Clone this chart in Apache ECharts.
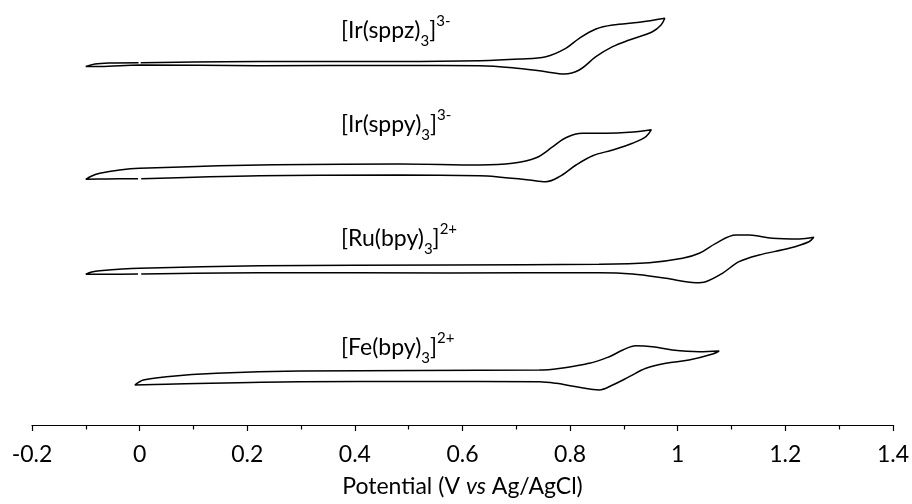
<!DOCTYPE html>
<html>
<head>
<meta charset="utf-8">
<script src="https://cdn.jsdelivr.net/npm/echarts@6/dist/echarts.min.js"></script>
<style>
html,body{margin:0;padding:0;background:#fff;}
#chart{width:912px;height:504px;}
</style>
</head>
<body>
<div id="chart"></div>
<script>
// Potential axis ticks (V vs Ag/AgCl)
const xTicks = [-0.2, 0, 0.2, 0.4, 0.6, 0.8, 1, 1.2, 1.4];

// Curve labels (rich text: main / subscript / superscript)
const curveLabels = [
  ['[Ir(sppz)', '3', ']', '3-'],
  ['[Ir(sppy)', '3', ']', '3-'],
  ['[Ru(bpy)', '3', ']', '2+'],
  ['[Fe(bpy)', '3', ']', '2+']
];

// [Ir(sppz)3]3- : potential (V) and offset current (a.u.)
const sppzE = [0.002, 0.223, 0.483, 0.632, 0.706, 0.755, 0.792, 0.817, 0.848, 0.879, 0.929, 0.976,
  0.969, 0.953, 0.910, 0.879, 0.848, 0.817, 0.789, 0.755, 0.693, 0.632, 0.483, 0.223, 0.000, -0.074, -0.100,
  -0.083, -0.055, -0.002];
const sppzI = [36.23, 36.35, 36.35, 36.43, 36.6, 36.83, 37.67, 38.67, 39.6, 40.0, 40.27, 40.67,
  40.0, 39.33, 38.5, 37.83, 36.83, 35.5, 35.1, 35.33, 35.73, 35.93, 35.95, 35.93, 36.0, 35.85, 35.85,
  36.1, 36.2, 36.23];

// [Ir(sppy)3]3-
const sppyE = [-0.003, -0.060, -0.100, -0.089, -0.074, -0.037, 0.000, 0.223, 0.483, 0.632, 0.693, 0.737,
  0.768, 0.792, 0.823, 0.867, 0.910, 0.951, 0.941, 0.916, 0.879, 0.842, 0.811, 0.780, 0.755, 0.724,
  0.663, 0.632, 0.483, 0.223, 0.003];
const sppyI = [24.63, 24.6, 24.57, 24.9, 25.17, 25.5, 25.67, 26.0, 26.1, 26.0, 26.17, 26.73,
  27.83, 28.73, 29.17, 29.17, 29.27, 29.53, 28.83, 28.17, 27.5, 26.93, 26.0, 24.83, 24.33, 24.5,
  24.83, 24.93, 25.0, 24.93, 24.63];

// [Ru(bpy)3]2+
const ruE = [-0.003, -0.060, -0.100, -0.089, -0.074, 0.000, 0.223, 0.576, 0.854, 0.947, 1.009, 1.040,
  1.071, 1.108, 1.133, 1.176, 1.226, 1.253, 1.244, 1.207, 1.151, 1.114, 1.083, 1.052, 1.034, 0.978,
  0.916, 0.854, 0.576, 0.223, 0.003];
const ruI = [15.1, 15.08, 15.07, 15.3, 15.43, 15.67, 15.93, 16.0, 16.07, 16.23, 16.67, 17.17,
  18.17, 19.0, 19.0, 18.67, 18.6, 18.77, 18.33, 17.67, 17.0, 16.33, 15.17, 14.33, 14.23, 14.67,
  15.1, 15.23, 15.2, 15.23, 15.1];

// [Fe(bpy)3]2+
const feE = [-0.009, 0.007, 0.050, 0.143, 0.297, 0.520, 0.743, 0.836, 0.873, 0.898, 0.922, 0.953,
  0.990, 1.040, 1.077, 1.065, 1.021, 0.978, 0.941, 0.910, 0.879, 0.854, 0.817, 0.774, 0.743, 0.520,
  0.297, 0.050, -0.009];
const feI = [4.0, 4.5, 4.83, 5.17, 5.4, 5.45, 5.5, 6.17, 6.83, 7.5, 7.93, 7.83,
  7.5, 7.33, 7.4, 7.1, 6.5, 6.17, 5.67, 4.83, 4.0, 3.5, 3.77, 4.17, 4.33, 4.35,
  4.33, 4.07, 4.0];

const FONT = 'Lato';
const pair = (E, I) => E.map((e, i) => [e, I[i]]);
const curves = [pair(sppzE, sppzI), pair(sppyE, sppyI), pair(ruE, ruI), pair(feE, feI)];

const chart = echarts.init(document.getElementById('chart'), null, {renderer: 'canvas'});

const labelTops = [13.5, 107.5, 221.5, 330.5];
const rich = {
  m: {fontFamily: FONT, fontSize: 23, color: '#000', lineHeight: 35},
  s: {fontFamily: FONT, fontSize: 15, color: '#000', lineHeight: 15, verticalAlign: 'bottom'},
  p: {fontFamily: FONT, fontSize: 15, color: '#000', lineHeight: 25, verticalAlign: 'top'}
};

const option = {
  animation: false,
  backgroundColor: '#fff',
  grid: {left: 32, right: 18, top: 0, bottom: 79, containLabel: false},
  xAxis: {
    type: 'value',
    min: -0.2, max: 1.4, interval: 0.2,
    name: '{n|Potential (V }{i|vs}{n| Ag/AgCl)}',
    nameLocation: 'middle',
    nameGap: 50,
    nameTextStyle: {
      rich: {
        n: {fontFamily: FONT, fontSize: 23, color: '#000'},
        i: {fontFamily: FONT, fontSize: 23, color: '#000', fontStyle: 'italic'}
      }
    },
    axisLine: {show: true, onZero: false, lineStyle: {color: '#000', width: 1.2}},
    axisTick: {show: true, inside: false, length: 6, lineStyle: {color: '#000', width: 1.2}},
    minorTick: {show: true, splitNumber: 2, length: 4.5, lineStyle: {color: '#000', width: 1.2}},
    splitLine: {show: false},
    axisLabel: {
      margin: 18,
      fontFamily: FONT, fontSize: 23, color: '#000',
      formatter: v => {
        const t = xTicks.find(x => Math.abs(x - v) < 1e-6);
        return t === undefined ? '' : String(t);
      }
    }
  },
  yAxis: {type: 'value', min: 0, max: 42.5, show: false},
  series: curves.map(d => ({
    type: 'line',
    data: d,
    showSymbol: false,
    smooth: 0.35,
    lineStyle: {color: '#000', width: 1.5},
    silent: true
  })),
  graphic: curveLabels.map((l, k) => ({
    type: 'text',
    left: 341,
    top: labelTops[k],
    silent: true,
    style: {
      text: '{m|' + l[0] + '}{s|' + l[1] + '}{m|' + l[2] + '}{p|' + l[3] + '}',
      rich: rich
    }
  }))
};
chart.setOption(option);
</script>
</body>
</html>
